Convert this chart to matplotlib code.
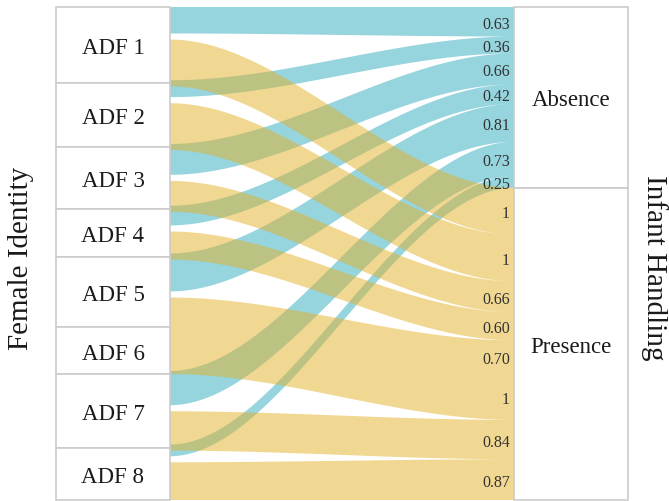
import numpy as np
import matplotlib.pyplot as plt
from matplotlib.patches import Rectangle, PathPatch
from matplotlib.path import Path

plt.rcParams['font.family'] = ['Liberation Serif', 'DejaVu Serif']

# данные: доли по самкам (ширина потока = значение)
females = ['ADF 1', 'ADF 2', 'ADF 3', 'ADF 4', 'ADF 5', 'ADF 6', 'ADF 7', 'ADF 8']
absence = [0.63, 0.36, 0.66, 0.42, 0.81, 0.00, 0.73, 0.25]
presence = [1.00, 1.00, 0.66, 0.60, 0.70, 1.00, 0.84, 0.87]
absence_labels = ['0.63', '0.36', '0.66', '0.42', '0.81', '', '0.73', '0.25']
presence_labels = ['1', '1', '0.66', '0.60', '0.70', '1', '0.84', '0.87']
handling = ['Absence', 'Presence']

blue = '#2fabbf'
yellow = '#e3b127'
edge = '#cccccc'
gap = 0.13          # зазор между потоками внутри блока слева
box_w = 1.0
flow_w = 3.02
x_l = box_w
x_r = box_w + flow_w

total = sum(absence) + sum(presence)

fig = plt.figure(figsize=(6.69, 5.02), dpi=100)
ax = fig.add_axes([56 / 669, 1 / 502, (628 - 56) / 669, 493 / 502])
ax.set_xlim(0, x_r + box_w)
ax.set_ylim(total, 0)
ax.axis('off')

xs = np.linspace(x_l, x_r, 300)
s = (xs - x_l) / flow_w
s = 3 * s**2 - 2 * s**3


def ribbon(left, right):
    top = left[0] + (right[0] - left[0]) * s
    bot = left[1] + (right[1] - left[1]) * s
    verts = np.vstack([np.column_stack([xs, top]),
                       np.column_stack([xs[::-1], bot[::-1]]),
                       [[xs[0], top[0]]]])
    codes = [Path.MOVETO] + [Path.LINETO] * (len(verts) - 2) + [Path.CLOSEPOLY]
    return verts, codes


def draw_layer(ribbons, color):
    # один путь на цвет, чтобы соседние потоки не давали швов
    verts = np.vstack([r[0] for r in ribbons])
    codes = sum([r[1] for r in ribbons], [])
    ax.add_patch(PathPatch(Path(verts, codes), fc=color, alpha=0.5, lw=0))


# левые позиции
tops = np.concatenate([[0], np.cumsum(np.array(absence) + np.array(presence))[:-1]])
left_blue, left_yel = [], []
for t, a, p in zip(tops, absence, presence):
    h = a + p
    c = t + h / 2
    grp = a + gap + p if a > 0 else p
    st = c - grp / 2
    left_blue.append((st, st + a))
    y0 = st + a + gap if a > 0 else st
    left_yel.append((y0, y0 + p))

# правые позиции
ab_cum = np.concatenate([[0], np.cumsum(absence)])
pr_cum = sum(absence) + np.concatenate([[0], np.cumsum(presence)])

draw_layer([ribbon(left_blue[i], (ab_cum[i], ab_cum[i + 1]))
            for i in range(len(females)) if absence[i] > 0], blue)
draw_layer([ribbon(left_yel[i], (pr_cum[i], pr_cum[i + 1]))
            for i in range(len(females))], yellow)

# блоки слева
for t, a, p, name in zip(tops, absence, presence, females):
    ax.add_patch(Rectangle((0, t), box_w, a + p, fc='white', ec=edge, lw=1.2, clip_on=False))
    ax.text(box_w / 2, t + (a + p) / 2, name, ha='center', va='center_baseline',
            fontsize=16.5, color='#1a1a1a')

# блоки справа
r_tops = [0, sum(absence)]
r_h = [sum(absence), sum(presence)]
for t, h, name in zip(r_tops, r_h, handling):
    ax.add_patch(Rectangle((x_r, t), box_w, h, fc='white', ec=edge, lw=1.2, clip_on=False))
    ax.text(x_r + box_w / 2, t + h / 2, name, ha='center', va='center_baseline',
            fontsize=16.5, color='#1a1a1a')

# подписи потоков
pad = 0.035
for i in range(len(females)):
    if absence[i] > 0:
        ax.text(x_r - pad, (ab_cum[i] + ab_cum[i + 1]) / 2, absence_labels[i],
                ha='right', va='center_baseline', fontsize=11.5, color='#333333')
    ax.text(x_r - pad, (pr_cum[i] + pr_cum[i + 1]) / 2, presence_labels[i],
            ha='right', va='center_baseline', fontsize=11.5, color='#333333')

fig.text(21 / 669, 1 - 258 / 502, 'Female Identity', rotation=90,
         ha='center', va='center', fontsize=21, color='#1a1a1a')
fig.text(654 / 669, 1 - 268 / 502, 'Infant Handling', rotation=270,
         ha='center', va='center', fontsize=21, color='#1a1a1a')

fig.savefig('out.png', dpi=100)
